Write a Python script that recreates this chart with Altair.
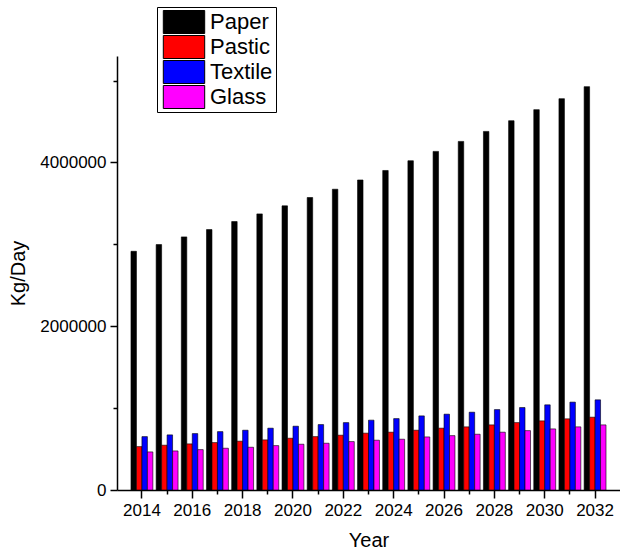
import altair as alt
import pandas as pd

# Daily waste generation projections by material (kg/day)
years = list(range(2014, 2033))
paper = [2915000, 2997000, 3091000, 3180000, 3278000, 3372000, 3470000,
         3572000, 3673000, 3786000, 3902000, 4021000, 4135000, 4257000,
         4379000, 4510000, 4645000, 4779000, 4926000]
plastic = [530000, 547000, 563000, 579000, 596000, 612000, 632000, 652000,
           669000, 694000, 706000, 730000, 755000, 771000, 795000, 823000,
           844000, 869000, 889000]
textile = [652000, 673000, 689000, 713000, 730000, 755000, 779000, 799000,
           823000, 853000, 872000, 905000, 926000, 950000, 982000, 1007000,
           1040000, 1073000, 1101000]
glass = [465000, 477000, 493000, 510000, 522000, 542000, 559000, 571000,
         591000, 608000, 620000, 648000, 664000, 681000, 706000, 725000,
         746000, 771000, 795000]

materials = ["Paper", "Pastic", "Textile", "Glass"]
colors = ["#000000", "#ff0000", "#0000ff", "#ff00ff"]
y_ticks = [0, 1000000, 2000000, 3000000, 4000000, 5000000]

series = {"Paper": paper, "Pastic": plastic, "Textile": textile, "Glass": glass}
rows = []
for name in materials:
    for yr, v in zip(years, series[name]):
        rows.append({"year": yr, "material": name, "value": v})
df = pd.DataFrame(rows)

FONT = "Liberation Sans"
# wide rectangle swatch for the legend
swatch = "M-1.8,-1L1.8,-1L1.8,1L-1.8,1Z"

chart = alt.Chart(df).mark_bar(stroke="black", strokeWidth=0.6).encode(
    x=alt.X(
        "year:O",
        title="Year",
        scale=alt.Scale(paddingInner=0.13, paddingOuter=0.555),
        axis=alt.Axis(
            labelAngle=0,
            labelExpr="datum.value % 2 == 0 ? datum.label : ''",
            tickSize={"condition": {"test": "datum.value % 2 == 0", "value": 8}, "value": 4},
            labelPadding=4,
            titlePadding=12,
        ),
    ),
    xOffset=alt.XOffset("material:N", sort=materials,
                        scale=alt.Scale(paddingInner=0, paddingOuter=0)),
    y=alt.Y(
        "value:Q",
        title="Kg/Day",
        scale=alt.Scale(domain=[0, 5300000], nice=False),
        axis=alt.Axis(
            values=y_ticks,
            format="d",
            labelExpr="datum.value % 2000000 == 0 ? datum.label : ''",
            tickSize={"condition": {"test": "datum.value % 2000000 == 0", "value": 7}, "value": 4},
            labelPadding=4,
            titlePadding=11,
        ),
    ),
    color=alt.Color(
        "material:N",
        sort=materials,
        scale=alt.Scale(domain=materials, range=colors),
        legend=alt.Legend(
            title=None,
            orient="none",
            legendX=40,
            legendY=-49,
            strokeColor="black",
            fillColor="white",
            padding=3,
            symbolType=swatch,
            symbolSize=529,
            symbolOffset=12,
            symbolStrokeColor="black",
            symbolStrokeWidth=1,
            symbolOpacity=1,
            labelOffset=14,
            labelFont=FONT,
            labelFontSize=22,
            labelColor="black",
            clipHeight=24,
            rowPadding=1,
        ),
    ),
).properties(
    width=503,
    height=434,
    autosize=alt.AutoSizeParams(type="none"),
    padding={"left": 117, "top": 56, "right": 0, "bottom": 63},
).configure_axis(
    grid=False,
    domainColor="black",
    domainWidth=1.5,
    tickColor="black",
    tickWidth=1.5,
    labelFont=FONT,
    labelFontSize=17,
    labelColor="black",
    titleFont=FONT,
    titleFontSize=20,
    titleFontWeight="normal",
    titleColor="black",
).configure_view(strokeWidth=0)

chart.save("out.html", embed_options={"renderer": "svg", "actions": False})
